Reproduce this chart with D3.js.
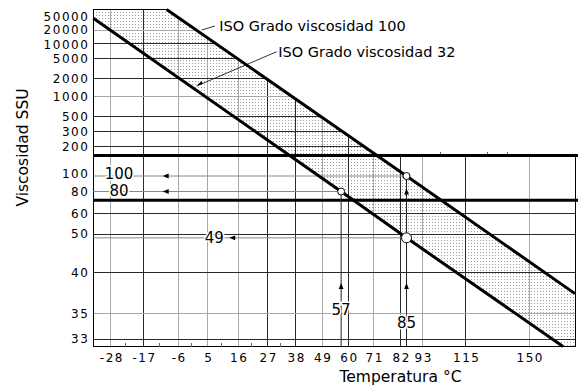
<!DOCTYPE html>
<html>
<head>
<meta charset="utf-8">
<script src="https://cdn.jsdelivr.net/npm/d3@7"></script>
<style>
  body { margin: 0; background: #fff; }
  svg { display: block; font-family: "DejaVu Sans", sans-serif; }
</style>
</head>
<body>
<div id="chart"></div>
<script>
// temperature (°C) and viscosity (SSU) ticks
const tempTicks = [-28, -17, -6, 5, 16, 27, 38, 49, 60, 71, 82, 93, 115, 150];
const tempMinor = [-23, -12, -1, 10, 21, 32];
const tempMarks = [102, 127, 138];
const tempRange = [-34, 175];
const ssuTicks = [50000, 20000, 10000, 5000, 2000, 1000, 500, 300, 200, 100, 80, 60, 50, 40, 35, 33];
const ssuRange = [65000, 32.4];
const ssuGrid = [20000, 10000, 5000, 2000, 1000, 500, 300, 200, 60, 50, 40, 35, 33];
const tempLight = [-28, -6, 5, 16, 49, 71, 93, 150];
const ssuLight = [20000, 1000, 35];
const limitSSU = [170, 72];

// ISO grade lines: [temp, SSU]
const iso32 = [[-34, 46200], [57, 80], [85, 49], [168.5, 32.4]];
const iso100 = [[-9.6, 65000], [85, 100], [175, 37.4]];

// readings
const readSSU = [100, 80, 49];
const readTemp = [85, 57, 85];
const readLabelTemp = [-25.2, -25.2, 7.4];
const readArrowTemp = [-10.85, -10.85, 12.8];
const readTempLabelSSU = [35.5, 34.3];
const readTempLines = [[57, 80], [85, 100]];
const readTempArrows = [[57, 38.7], [85, 38.7], [85, 84]];
const readPoints = [[85, 100, 'small'], [57, 80, 'small'], [85, 49, 'big']];

// grade labels
const gradeText = ['ISO Grado viscosidad 100', 'ISO Grado viscosidad 32'];
const gradeAt = [[9.2, 29900], [31.2, 7200]];
const gradeLeaderFrom = [[2.8, 21500], [0.9, 1580]];
const gradeLeaderTo = [[7.6, 29900], [30.6, 7200]];

const W = 578, H = 387;

// chart axes are nonuniform (ASTM chart), so map ticks onto their drawn positions
const xPix = [93.3, 110.7, 143.3, 178, 207.7, 238, 267.5, 295.5, 322, 348.3, 373.5, 400.5, 422.5, 465.5, 529, 575];
const yPix = [9.5, 16.5, 30.7, 43.3, 58.3, 78.3, 96.7, 116.3, 131.7, 146.7, 176, 191.5, 213.3, 234, 272.3, 313.3, 339, 346.5];
const x = d3.scaleLinear().domain([tempRange[0], ...tempTicks, tempRange[1]]).range(xPix);
const y = d3.scaleLinear().domain([ssuRange[0], ...ssuTicks, ssuRange[1]]).range(yPix);
const P = d => [x(d[0]), y(d[1])];

const x0 = x(tempRange[0]), xR = x(tempRange[1]);
const yT = y(ssuRange[0]), yB = y(ssuRange[1]);

const svg = d3.select('#chart').append('svg').attr('width', W).attr('height', H);
svg.append('rect').attr('width', W).attr('height', H).attr('fill', '#fff');

const defs = svg.append('defs');
const pat = defs.append('pattern').attr('id', 'dots')
    .attr('width', 3).attr('height', 3).attr('patternUnits', 'userSpaceOnUse');
pat.append('rect').attr('x', 0).attr('y', 0).attr('width', 1).attr('height', 1).attr('fill', '#9c9c9c');

// grid area: the upper right corner (above the limit band, past ISO 100) is left blank
const a = P(iso100[0]), b = P(iso100[1]);
const yl = y(limitSSU[0]);
const cut = [a[0] + (yl - a[1]) / (b[1] - a[1]) * (b[0] - a[0]), yl];
const gridArea = [[x0, yT], a, cut, [xR, yl], [xR, yB], [x0, yB]];
const poly = pts => 'M' + pts.map(p => p.join(',')).join('L') + 'Z';

defs.append('clipPath').attr('id', 'gridclip').append('path').attr('d', poly(gridArea));

// shaded band between the two grades
const band = [...iso32.map(P), [xR, yB], ...iso100.slice().reverse().map(P), [x0, yT]];
svg.append('path').attr('d', poly(band)).attr('fill', 'url(#dots)');

// grid
const grid = svg.append('g').attr('clip-path', 'url(#gridclip)').attr('shape-rendering', 'crispEdges');
grid.selectAll('.vg').data(tempTicks).join('line')
    .attr('x1', d => x(d)).attr('x2', d => x(d)).attr('y1', yT).attr('y2', yB)
    .attr('stroke', d => tempLight.includes(d) ? '#a8a8a8' : '#2a2a2a').attr('stroke-width', 1);
grid.selectAll('.hg').data(ssuGrid).join('line')
    .attr('y1', d => y(d)).attr('y2', d => y(d)).attr('x1', x0).attr('x2', xR)
    .attr('stroke', d => ssuLight.includes(d) ? '#a8a8a8' : '#2a2a2a').attr('stroke-width', 1);

// frame
svg.append('path').attr('d', poly(gridArea)).attr('fill', 'none')
    .attr('stroke', '#000').attr('stroke-width', 1).attr('shape-rendering', 'crispEdges');

// minor ticks
svg.append('g').selectAll('line').data(tempMinor).join('line')
    .attr('x1', d => x(d)).attr('x2', d => x(d)).attr('y1', yB).attr('y2', yB - 4)
    .attr('stroke', '#666').attr('shape-rendering', 'crispEdges');
svg.append('g').selectAll('line').data(tempMarks).join('line')
    .attr('x1', d => x(d)).attr('x2', d => x(d)).attr('y1', yl).attr('y2', yl - 3)
    .attr('stroke', '#666').attr('shape-rendering', 'crispEdges');

// limit lines
svg.append('g').selectAll('line').data(limitSSU).join('line')
    .attr('x1', x0).attr('x2', xR + 3).attr('y1', d => y(d)).attr('y2', d => y(d))
    .attr('stroke', '#000').attr('stroke-width', 3);

function arrow(g, px, py, dir) {
    const L = 6, w = 2.4;
    let pts;
    if (dir === 'left') pts = [[px, py], [px + L, py - w], [px + L, py + w]];
    else if (dir === 'up') pts = [[px, py], [px - w, py + L], [px + w, py + L]];
    else pts = [[px, py], [px + L * 0.8, py - L * 0.6 - w * 0.6], [px + L * 0.8 + w * 0.6, py - L * 0.6 + w * 0.6]];
    g.append('path').attr('d', poly(pts)).attr('fill', '#000');
}

// reading lines
const ann = svg.append('g');
readSSU.forEach((v, i) => {
    ann.append('line').attr('x1', x0).attr('x2', x(readTemp[i]))
        .attr('y1', y(v)).attr('y2', y(v)).attr('stroke', '#888').attr('stroke-width', 1);
});
readTempLines.forEach(d => {
    ann.append('line').attr('x1', x(d[0])).attr('x2', x(d[0]))
        .attr('y1', y(d[1])).attr('y2', yB).attr('stroke', '#222').attr('stroke-width', 1);
});

// grade lines
const line = d3.line().x(d => x(d[0])).y(d => y(d[1]));
[iso32, iso100].forEach(s => {
    svg.append('path').attr('d', line(s)).attr('fill', 'none')
        .attr('stroke', '#000').attr('stroke-width', 3);
});

readSSU.forEach((v, i) => arrow(ann, x(readArrowTemp[i]), y(v), 'left'));
readTempArrows.forEach(d => arrow(ann, x(d[0]), y(d[1]), 'up'));

// reading labels
const lab = svg.append('g').attr('font-size', 15).attr('fill', '#000')
    .attr('stroke', '#fff').attr('stroke-width', 3).attr('paint-order', 'stroke')
    .attr('text-anchor', 'middle');
readSSU.forEach((v, i) => {
    lab.append('text').attr('x', x(readLabelTemp[i])).attr('y', y(v) - (i === 0 ? 2.5 : 0.5)).attr('dy', '0.36em').text(v);
});
readTempLines.forEach((d, i) => {
    lab.append('text').attr('x', x(d[0])).attr('y', y(readTempLabelSSU[i])).attr('dy', '0.36em').text(d[0]);
});

// points
svg.append('g').selectAll('circle').data(readPoints).join('circle')
    .attr('cx', d => x(d[0])).attr('cy', d => y(d[1]))
    .attr('r', d => d[2] === 'big' ? 5 : 3.5)
    .attr('fill', '#fff').attr('stroke', '#000').attr('stroke-width', 1);

// grade labels
gradeText.forEach((t, i) => {
    const f = P(gradeLeaderFrom[i]), to = P(gradeLeaderTo[i]);
    svg.append('line').attr('x1', f[0]).attr('y1', f[1]).attr('x2', to[0]).attr('y2', to[1])
        .attr('stroke', '#000').attr('stroke-width', 0.8);
    svg.append('text').attr('x', x(gradeAt[i][0])).attr('y', y(gradeAt[i][1])).attr('dy', '0.36em')
        .attr('font-size', 14.5).attr('fill', '#000').text(t);
});
arrow(svg, ...P(gradeLeaderFrom[1]), 'dl');

// axes
const xAxis = svg.append('g').attr('transform', `translate(0,${yB})`)
    .call(d3.axisBottom(x).tickValues(tempTicks).tickSize(0).tickPadding(7).tickFormat(d => d));
const yAxis = svg.append('g').attr('transform', `translate(${x0},0)`)
    .call(d3.axisLeft(y).tickValues(ssuTicks).tickSize(0).tickPadding(4).tickFormat(d => d));
[xAxis, yAxis].forEach(g => {
    g.select('.domain').remove();
    g.selectAll('text').attr('font-family', '"DejaVu Sans", sans-serif')
        .attr('font-size', 12).attr('letter-spacing', 1.5).attr('fill', '#000');
});
xAxis.selectAll('text').attr('dx', '0.7');
// the top labels sit very close together; spread them a touch
yAxis.selectAll('.tick text').attr('dy', d => d === 20000 ? '0.24em' : d === 10000 ? '0.42em' : d === 100 ? '0.12em' : '0.32em');

// titles
svg.append('text').attr('x', 400.5).attr('y', 382).attr('text-anchor', 'middle')
    .attr('font-size', 15.5).attr('fill', '#000').text('Temperatura °C');
svg.append('text').attr('transform', 'translate(28,147.5) rotate(-90)').attr('text-anchor', 'middle')
    .attr('font-size', 15.5).attr('fill', '#000').text('Viscosidad SSU');
</script>
</body>
</html>
